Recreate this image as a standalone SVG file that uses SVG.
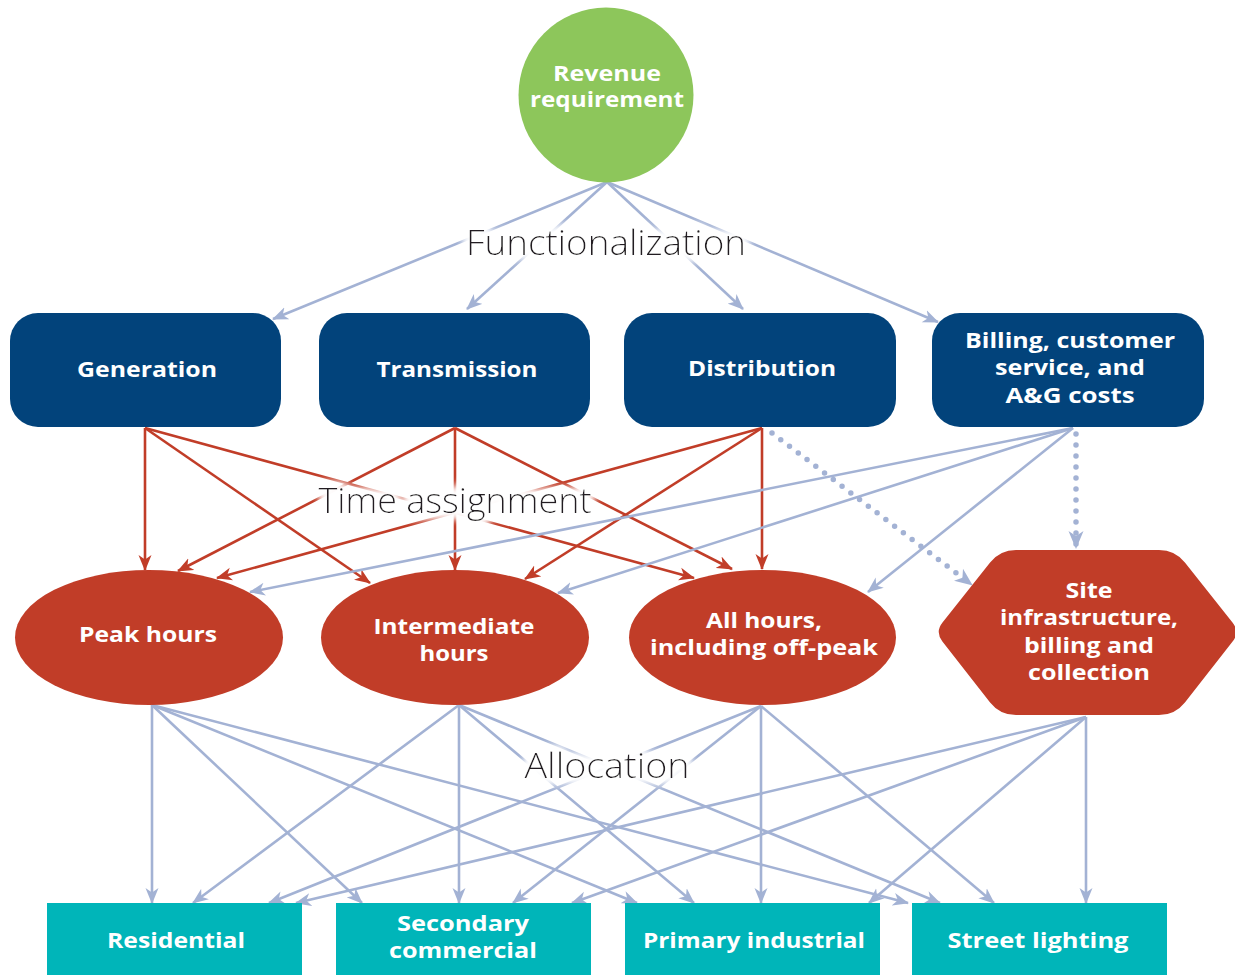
<svg xmlns="http://www.w3.org/2000/svg" width="1235" height="975" viewBox="0 0 1235 975">
<style>
.bl{fill:none;stroke:#a3b2d4;stroke-width:2.6;marker-end:url(#ab)}
.rd{fill:none;stroke:#c13d28;stroke-width:2.6;marker-end:url(#ar)}
.dt{fill:none;stroke:#a3b2d4;stroke-width:5.5;stroke-linecap:round;stroke-dasharray:0 11;marker-end:url(#ab2)}
.lbl{font-family:"Open Sans","Liberation Sans",sans-serif;font-weight:700;fill:#fff;text-anchor:middle;font-size:21px}
.sec{font-family:"Open Sans","Liberation Sans",sans-serif;font-weight:300;fill:#231f20;text-anchor:middle;font-size:35px}
.navy{fill:#02437b}
.red{fill:#c13d28}
.teal{fill:#00b5b9}
</style>
<defs>
<marker id="ab" markerUnits="userSpaceOnUse" markerWidth="16" markerHeight="14" viewBox="0 0 16 14" refX="15" refY="7" orient="auto">
<path d="M0,0.5 L16,7 L0,13.5 L4.5,7 Z" fill="#a3b2d4"/>
</marker>
<marker id="ab2" markerUnits="userSpaceOnUse" markerWidth="18" markerHeight="16" viewBox="0 0 18 16" refX="17" refY="8" orient="auto">
<path d="M0,0.5 L18,8 L0,15.5 L5,8 Z" fill="#a3b2d4"/>
</marker>
<marker id="ar" markerUnits="userSpaceOnUse" markerWidth="16" markerHeight="14" viewBox="0 0 16 14" refX="15" refY="7" orient="auto">
<path d="M0,0.5 L16,7 L0,13.5 L4.5,7 Z" fill="#c13d28"/>
</marker>
<filter id="halo" x="-20%" y="-60%" width="140%" height="220%">
<feMorphology in="SourceAlpha" operator="dilate" radius="3" result="d"/>
<feGaussianBlur in="d" stdDeviation="5" result="b"/>
<feFlood flood-color="#ffffff"/>
<feComposite in2="b" operator="in" result="w"/>
<feMerge><feMergeNode in="w"/><feMergeNode in="w"/><feMergeNode in="w"/><feMergeNode in="SourceGraphic"/></feMerge>
</filter>
</defs>
<rect width="1235" height="975" fill="#ffffff"/>
<g id="connectors">
<line class="bl" x1="607" y1="182" x2="273" y2="319"/>
<line class="bl" x1="607" y1="182" x2="467" y2="309"/>
<line class="bl" x1="607" y1="182" x2="743" y2="309"/>
<line class="bl" x1="607" y1="182" x2="938" y2="322"/>
<line class="rd" x1="145" y1="428" x2="145" y2="570"/>
<line class="rd" x1="145" y1="428" x2="370" y2="583"/>
<line class="rd" x1="145" y1="428" x2="694" y2="578"/>
<line class="rd" x1="455" y1="428" x2="178" y2="571"/>
<line class="rd" x1="455" y1="428" x2="455" y2="570"/>
<line class="rd" x1="455" y1="428" x2="732" y2="569"/>
<line class="rd" x1="762" y1="428" x2="217" y2="578"/>
<line class="rd" x1="762" y1="428" x2="525" y2="579"/>
<line class="rd" x1="762" y1="428" x2="762" y2="569"/>
<line class="bl" x1="1073" y1="428" x2="250" y2="592"/>
<line class="bl" x1="1073" y1="428" x2="558" y2="593"/>
<line class="bl" x1="1073" y1="428" x2="868" y2="592"/>
<line class="dt" x1="772" y1="433" x2="972" y2="585"/>
<line class="dt" x1="1076" y1="434" x2="1076" y2="548"/>
<line class="bl" x1="152" y1="705" x2="152" y2="903"/>
<line class="bl" x1="152" y1="705" x2="362" y2="903"/>
<line class="bl" x1="152" y1="705" x2="637" y2="903"/>
<line class="bl" x1="152" y1="705" x2="908" y2="903"/>
<line class="bl" x1="459" y1="705" x2="193" y2="903"/>
<line class="bl" x1="459" y1="705" x2="459" y2="903"/>
<line class="bl" x1="459" y1="705" x2="694" y2="903"/>
<line class="bl" x1="459" y1="705" x2="940" y2="903"/>
<line class="bl" x1="761" y1="706" x2="269" y2="903"/>
<line class="bl" x1="761" y1="706" x2="513" y2="903"/>
<line class="bl" x1="761" y1="706" x2="761" y2="903"/>
<line class="bl" x1="761" y1="706" x2="994" y2="903"/>
<line class="bl" x1="1086" y1="717" x2="296" y2="903"/>
<line class="bl" x1="1086" y1="717" x2="572" y2="903"/>
<line class="bl" x1="1086" y1="717" x2="869" y2="903"/>
<line class="bl" x1="1086" y1="717" x2="1086" y2="903"/>
</g>
<g id="section-labels" filter="url(#halo)">
<text class="sec" x="606" y="255" textLength="280" lengthAdjust="spacingAndGlyphs">Functionalization</text>
<text class="sec" x="455" y="513" textLength="273" lengthAdjust="spacingAndGlyphs">Time assignment</text>
<text class="sec" x="607" y="778" textLength="165" lengthAdjust="spacingAndGlyphs">Allocation</text>
</g>
<g id="revenue">
<circle cx="606" cy="95" r="87.5" fill="#8dc65b"/>
<text class="lbl"><tspan x="607" y="81" textLength="108" lengthAdjust="spacingAndGlyphs">Revenue</tspan><tspan x="607" y="107" textLength="154" lengthAdjust="spacingAndGlyphs">requirement</tspan></text>
</g>
<g id="generation">
<rect class="navy" x="10" y="313" width="271" height="114" rx="28"/>
<text class="lbl" x="147" y="377" textLength="140" lengthAdjust="spacingAndGlyphs">Generation</text>
</g>
<g id="transmission">
<rect class="navy" x="319" y="313" width="271" height="114" rx="28"/>
<text class="lbl" x="457" y="377" textLength="161" lengthAdjust="spacingAndGlyphs">Transmission</text>
</g>
<g id="distribution">
<rect class="navy" x="624" y="313" width="272" height="114" rx="28"/>
<text class="lbl" x="762" y="376" textLength="148" lengthAdjust="spacingAndGlyphs">Distribution</text>
</g>
<g id="billing">
<rect class="navy" x="932" y="313" width="272" height="114" rx="28"/>
<text class="lbl"><tspan x="1070" y="348" textLength="210" lengthAdjust="spacingAndGlyphs">Billing, customer</tspan><tspan x="1070" y="375" textLength="150" lengthAdjust="spacingAndGlyphs">service, and</tspan><tspan x="1070" y="403" textLength="129" lengthAdjust="spacingAndGlyphs">A&amp;G costs</tspan></text>
</g>
<g id="peak-hours">
<ellipse class="red" cx="149" cy="637.5" rx="134" ry="67.5"/>
<text class="lbl" x="148" y="642" textLength="138" lengthAdjust="spacingAndGlyphs">Peak hours</text>
</g>
<g id="intermediate-hours">
<ellipse class="red" cx="455" cy="637.5" rx="134" ry="67.5"/>
<text class="lbl"><tspan x="454" y="634" textLength="161" lengthAdjust="spacingAndGlyphs">Intermediate</tspan><tspan x="454" y="661" textLength="69" lengthAdjust="spacingAndGlyphs">hours</tspan></text>
</g>
<g id="all-hours">
<ellipse class="red" cx="762.5" cy="637.5" rx="133.5" ry="67.5"/>
<text class="lbl"><tspan x="764" y="628" textLength="116" lengthAdjust="spacingAndGlyphs">All hours,</tspan><tspan x="764" y="655" textLength="228" lengthAdjust="spacingAndGlyphs">including off-peak</tspan></text>
</g>
<g id="site-infrastructure">
<path class="red" d="M942.4,641.5 Q935,632 942.5,622.6 L990.1,562.5 Q1000,550 1016,550 L1159,550 Q1175,550 1184.9,562.5 L1232.5,622.6 Q1240,632 1232.6,641.5 L1184.9,702.4 Q1175,715 1159,715 L1016,715 Q1000,715 990.1,702.4 Z"/>
<text class="lbl"><tspan x="1089" y="598" textLength="47" lengthAdjust="spacingAndGlyphs">Site</tspan><tspan x="1089" y="625" textLength="178" lengthAdjust="spacingAndGlyphs">infrastructure,</tspan><tspan x="1089" y="653" textLength="130" lengthAdjust="spacingAndGlyphs">billing and</tspan><tspan x="1089" y="680" textLength="122" lengthAdjust="spacingAndGlyphs">collection</tspan></text>
</g>
<g id="residential">
<rect class="teal" x="47" y="903" width="255" height="72"/>
<text class="lbl" x="176" y="948" textLength="138" lengthAdjust="spacingAndGlyphs">Residential</text>
</g>
<g id="secondary-commercial">
<rect class="teal" x="336" y="903" width="255" height="72"/>
<text class="lbl" font-size="19.5"><tspan x="463" y="931" textLength="132" lengthAdjust="spacingAndGlyphs">Secondary</tspan><tspan x="463" y="958" textLength="148" lengthAdjust="spacingAndGlyphs">commercial</tspan></text>
</g>
<g id="primary-industrial">
<rect class="teal" x="625" y="903" width="255" height="72"/>
<text class="lbl" x="754" y="948" textLength="222" lengthAdjust="spacingAndGlyphs">Primary industrial</text>
</g>
<g id="street-lighting">
<rect class="teal" x="912" y="903" width="255" height="72"/>
<text class="lbl" x="1038" y="948" textLength="181" lengthAdjust="spacingAndGlyphs">Street lighting</text>
</g>
</svg>
